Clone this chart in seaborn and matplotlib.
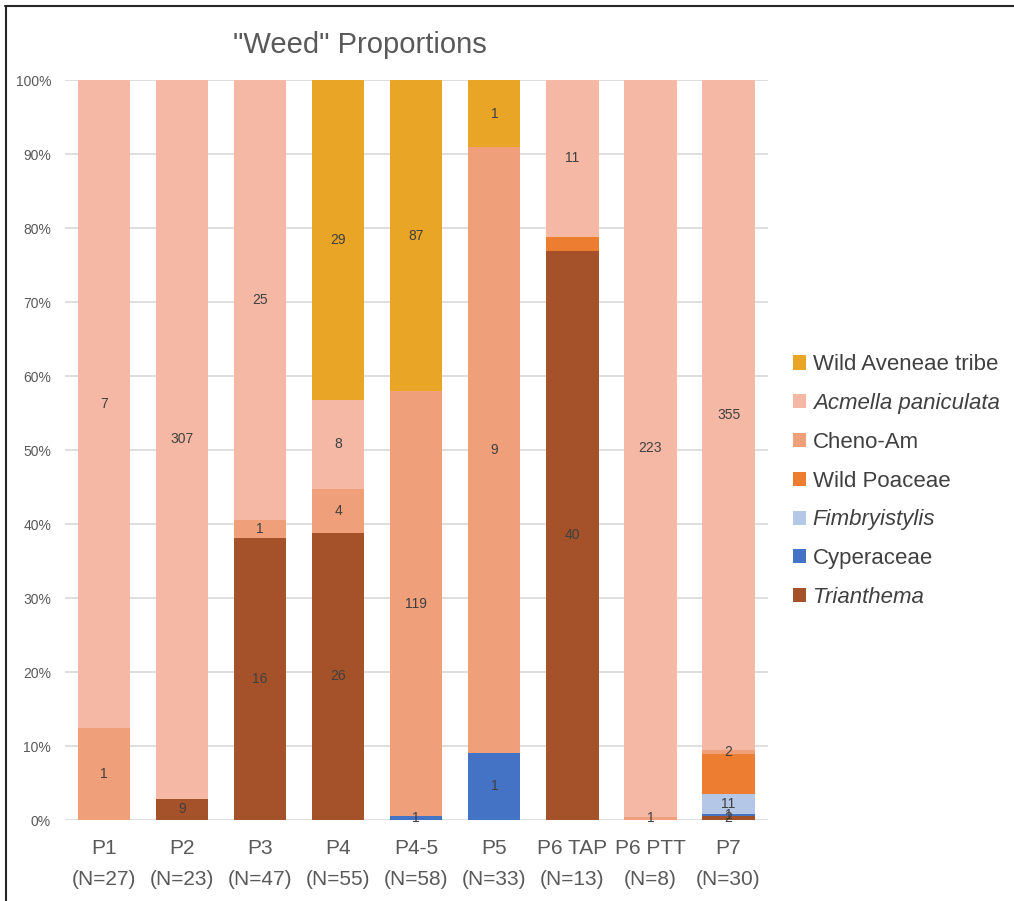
import numpy as np
import pandas as pd
import matplotlib
matplotlib.use("Agg")
import matplotlib.pyplot as plt
import seaborn as sns
from matplotlib.patches import Patch
from matplotlib.lines import Line2D

# Sample sites and their sample counts
sites = ["P1", "P2", "P3", "P4", "P4-5", "P5", "P6 TAP", "P6 PTT", "P7"]
sample_n = [27, 23, 47, 55, 58, 33, 13, 8, 30]

# Seed counts per taxon (stacked bottom to top)
trianthema    = [0, 9, 16, 26, 0, 0, 40, 0, 2]
cyperaceae    = [0, 0, 0, 0, 1, 1, 0, 0, 1]
fimbriystylis = [0, 0, 0, 0, 0, 0, 0, 0, 11]
wild_poaceae  = [0, 0, 0, 0, 0, 0, 1, 0, 21]
cheno_am      = [1, 0, 1, 4, 119, 9, 0, 1, 2]
acmella       = [7, 307, 25, 8, 0, 0, 11, 223, 355]
aveneae       = [0, 0, 0, 29, 87, 1, 0, 0, 0]

layers = [
    ("Trianthema", trianthema, "#A5522A", True, True),
    ("Cyperaceae", cyperaceae, "#4472C4", False, True),
    ("Fimbryistylis", fimbriystylis, "#B4C7E7", True, True),
    ("Wild Poaceae", wild_poaceae, "#ED7D31", False, False),
    ("Cheno-Am", cheno_am, "#F09F7B", False, True),
    ("Acmella paniculata", acmella, "#F4B8A5", True, True),
    ("Wild Aveneae tribe", aveneae, "#E8A526", False, True),
]

sns.set_theme(style="white")
plt.rcParams["font.family"] = ["Liberation Sans", "DejaVu Sans"]

labels = [f"{s}\n(N={n})" for s, n in zip(sites, sample_n)]
counts = np.array([l[1] for l in layers], dtype=float)
totals = counts.sum(axis=0)

fig = plt.figure(figsize=(10.14, 9.01), dpi=100)
ax = fig.add_axes([0.064, 0.0899, 0.693, 0.8213])

bottom = np.zeros(len(sites))
for name, vals, color, italic, show in layers:
    share = np.array(vals) / totals
    df = pd.DataFrame({"site": labels, "share": share})
    sns.barplot(data=df, x="site", y="share", color=color, bottom=bottom,
                width=0.67, ax=ax, saturation=1, linewidth=0)
    cont = ax.containers[-1]
    if show:
        txt = [str(v) if v > 0 else "" for v in vals]
        ax.bar_label(cont, labels=txt, label_type="center", fontsize=10,
                     color="#404040")
    bottom = bottom + share

ax.set_ylim(0, 1)
ax.set_xlim(-0.5, len(sites) - 0.5)
ticks = np.arange(0, 1.01, 0.1)
ax.set_yticks(ticks)
ax.set_yticklabels([f"{int(round(t * 100))}%" for t in ticks],
                   fontsize=10, color="#595959")
ax.yaxis.grid(True, color="#D9D9D9", linewidth=1.2)
ax.set_axisbelow(True)
ax.set_xlabel("")
ax.set_ylabel("")
ax.tick_params(axis="x", labelsize=15, colors="#595959", pad=14, length=0)
for t in ax.get_xticklabels():
    t.set_linespacing(1.75)
ax.tick_params(axis="y", length=0, pad=10)
for sp in ax.spines.values():
    sp.set_visible(False)

fig.suptitle('"Weed" Proportions', x=0.355, y=0.966, fontsize=21,
             color="#595959")

handles = [Patch(facecolor=c, edgecolor="none", label=n)
           for n, v, c, it, s in reversed(layers)]
leg = fig.legend(handles=handles, loc="center left", bbox_to_anchor=(0.762, 0.466),
                 frameon=False, handlelength=0.6, handleheight=0.6,
                 handletextpad=0.3, labelspacing=0.8,
                 prop={"size": 16})
for t, (n, v, c, italic, s) in zip(leg.get_texts(), reversed(layers)):
    t.set_color("#404040")
    if italic:
        t.set_style("italic")

# frame edges along the top and left of the figure
fig.add_artist(Line2D([0.0054, 1.0], [1 - 5.5 / 901, 1 - 5.5 / 901],
                      transform=fig.transFigure, color="#262626", linewidth=1.5))
fig.add_artist(Line2D([5.5 / 1014, 5.5 / 1014], [0.0, 1 - 5.5 / 901],
                      transform=fig.transFigure, color="#262626", linewidth=1.5))

fig.savefig("out.png", dpi=100)
